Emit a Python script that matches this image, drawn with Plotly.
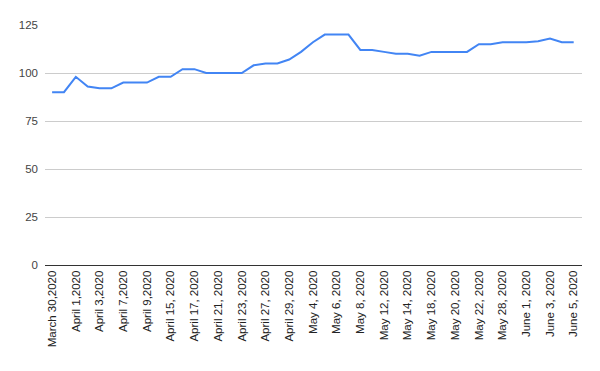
import plotly.graph_objects as go

dates = [
    "March 30,2020", "March 31,2020", "April 1,2020", "April 2,2020", "April 3,2020",
    "April 6,2020", "April 7,2020", "April 8,2020", "April 9,2020", "April 14, 2020",
    "April 15, 2020", "April 16, 2020", "April 17, 2020", "April 20, 2020", "April 21, 2020",
    "April 22, 2020", "April 23, 2020", "April 24, 2020", "April 27, 2020", "April 28, 2020",
    "April 29, 2020", "May 1, 2020", "May 4, 2020", "May 5, 2020", "May 6, 2020",
    "May 7, 2020", "May 8, 2020", "May 11, 2020", "May 12, 2020", "May 13, 2020",
    "May 14, 2020", "May 15, 2020", "May 18, 2020", "May 19, 2020", "May 20, 2020",
    "May 21, 2020", "May 22, 2020", "May 27, 2020", "May 28, 2020", "May 29, 2020",
    "June 1, 2020", "June 2, 2020", "June 3, 2020", "June 4, 2020", "June 5, 2020",
]
values = [
    90, 90, 98, 93, 92,
    92, 95, 95, 95, 98,
    98, 102, 102, 100, 100,
    100, 100, 104, 105, 105,
    107, 111, 116, 120, 120,
    120, 112, 112, 111, 110,
    110, 109, 111, 111, 111,
    111, 115, 115, 116, 116,
    116, 116.5, 118, 116, 116,
]
shown_labels = dates[::2]
y_ticks = [0, 25, 50, 75, 100, 125]

fig = go.Figure(go.Scatter(
    x=dates, y=values, mode="lines",
    line=dict(color="#4285F4", width=2),
    hoverinfo="x+y",
))

fig.update_layout(
    width=600, height=371,
    margin=dict(l=37, r=26, t=17, b=114),
    plot_bgcolor="white", paper_bgcolor="white",
    showlegend=False,
    font=dict(family="Liberation Sans, Arial, sans-serif", size=11, color="#222"),
    xaxis=dict(
        type="category",
        range=[-0.6, len(dates) - 1 + 0.7],
        tickmode="array", tickvals=shown_labels, ticktext=shown_labels,
        tickangle=-90, showgrid=False, automargin=False,
        showline=True, linecolor="#333", linewidth=1,
        ticks="", tickfont=dict(size=11.5, color="#222"),
    ),
    yaxis=dict(
        range=[0, 125], automargin=False,
        tickmode="array", tickvals=y_ticks,
        showgrid=True, gridcolor="#cccccc", gridwidth=1,
        zeroline=False, showline=False,
        ticks="", ticklabelstandoff=6,
        tickfont=dict(size=11.5, color="#444"),
    ),
)

fig.write_html("out.html")
